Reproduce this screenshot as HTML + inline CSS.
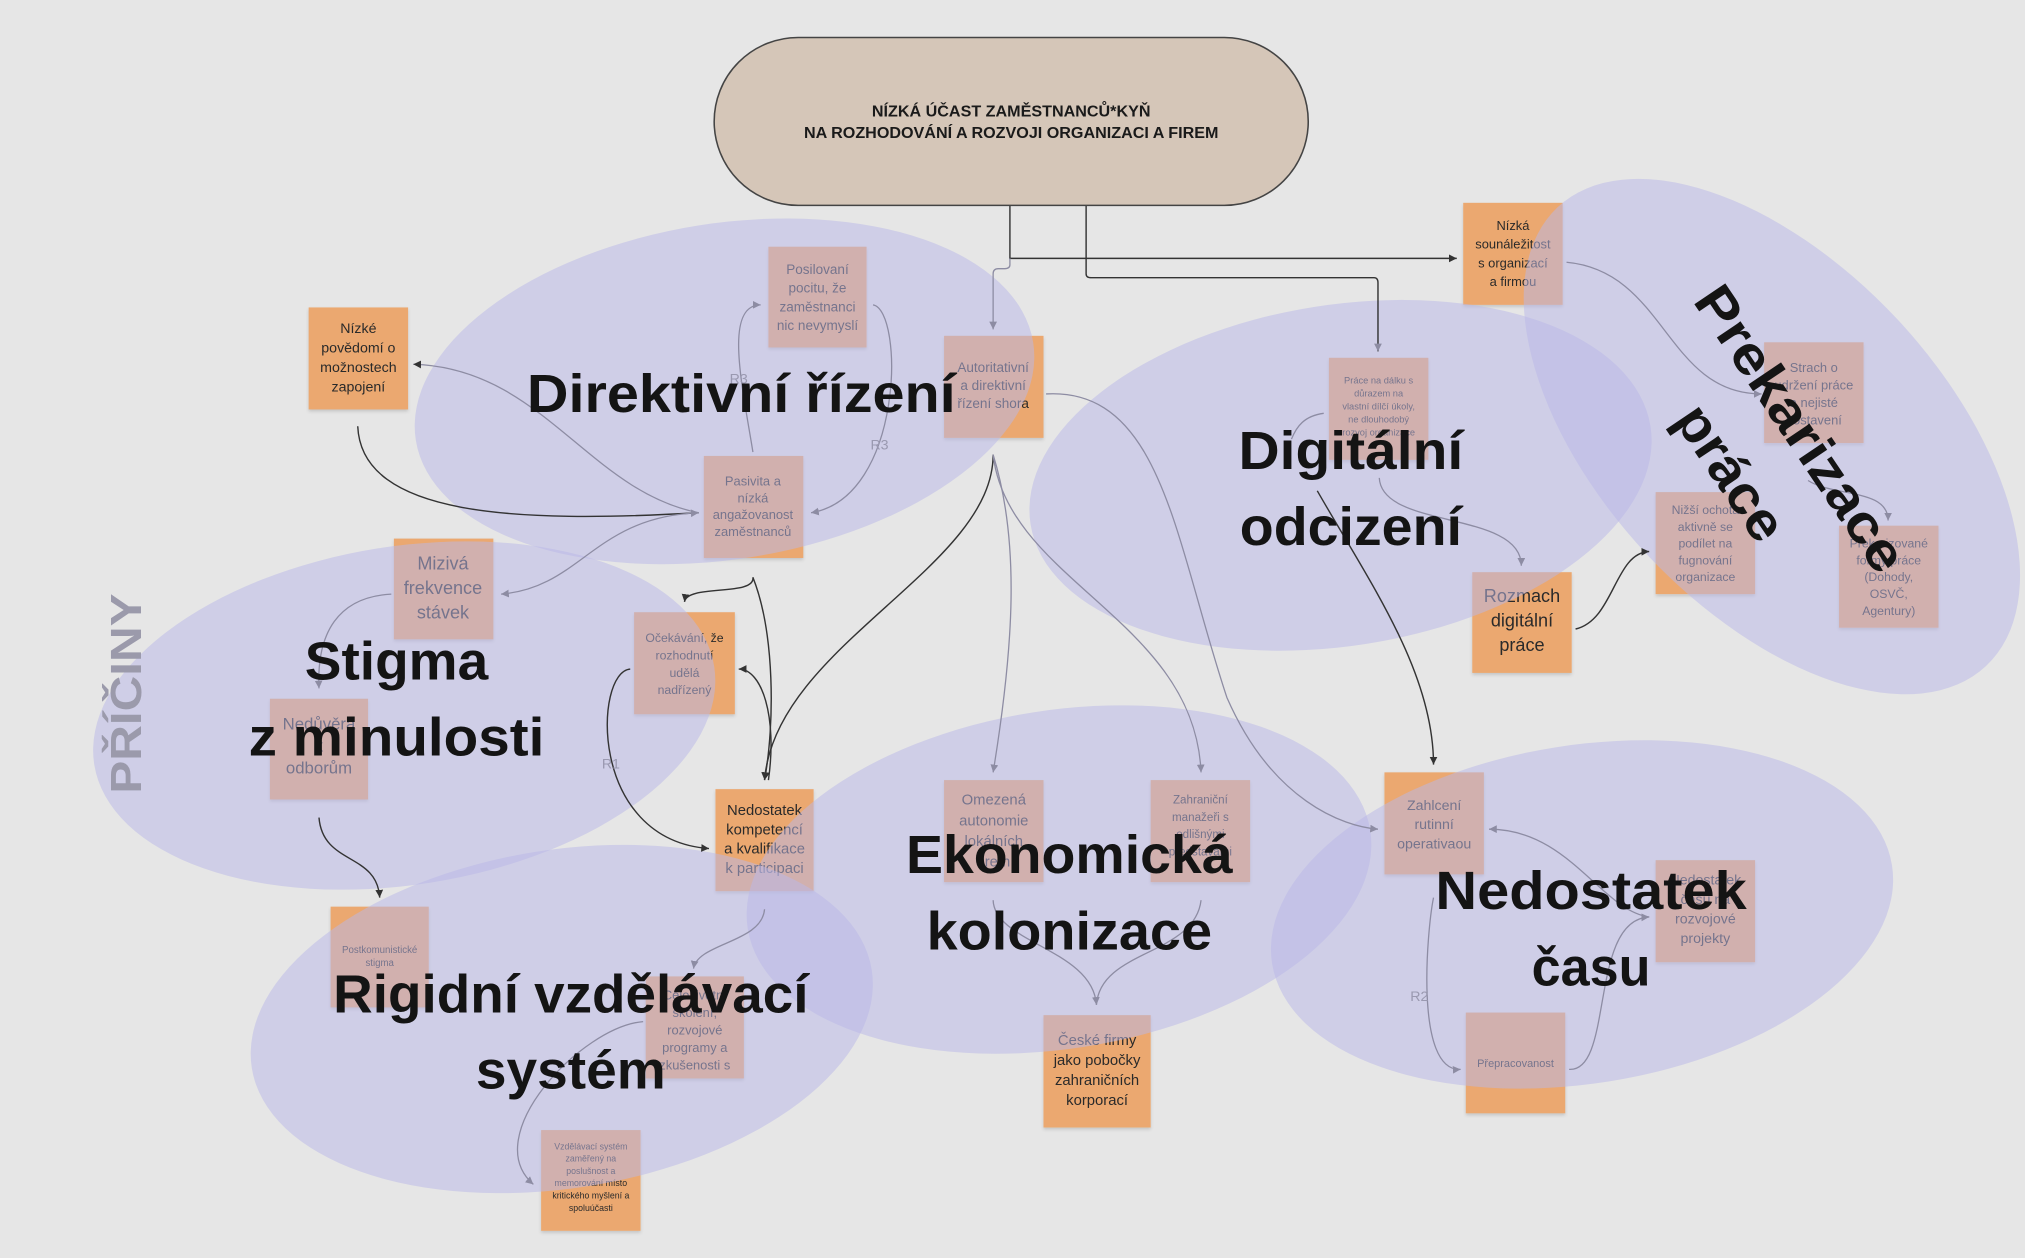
<!DOCTYPE html>
<html><head><meta charset="utf-8"><style>
html,body{margin:0;padding:0;background:#e6e6e6;}
svg{display:block;}
text{font-family:"Liberation Sans","DejaVu Sans",sans-serif;}
.n{font-size:10.5px;fill:#2a2a2a;text-anchor:middle;}
.b{font-weight:bold;fill:#141414;text-anchor:middle;font-size:42px;}
.g{fill:none;stroke:#8d8ca3;stroke-width:1;}
.d{fill:none;stroke:#333;stroke-width:1.1;}
.r{font-size:11px;fill:#9a99b0;}
</style></head><body>
<svg width="2025" height="1258" viewBox="0 0 1568 974" xmlns="http://www.w3.org/2000/svg">
<defs>
<marker id="ad" markerWidth="8" markerHeight="8" refX="6" refY="3" orient="auto" markerUnits="userSpaceOnUse"><path d="M0,0 L6,3 L0,6 z" fill="#333"/></marker>
<marker id="ag" markerWidth="8" markerHeight="8" refX="6" refY="3" orient="auto" markerUnits="userSpaceOnUse"><path d="M0,0 L6,3 L0,6 z" fill="#8d8ca3"/></marker>
<filter id="sh" x="-10%" y="-10%" width="130%" height="130%"><feDropShadow dx="0" dy="1.5" stdDeviation="1.2" flood-color="#000" flood-opacity="0.15"/></filter>
</defs>
<rect width="1568" height="974" fill="#e6e6e6"/>

<g fill="#eba86f" filter="url(#sh)">
<rect x="239" y="238" width="77" height="79"/>
<rect x="595" y="191" width="76" height="78"/>
<rect x="731" y="260" width="77" height="79"/>
<rect x="545" y="353" width="77" height="79"/>
<rect x="305" y="417" width="77" height="78"/>
<rect x="491" y="474" width="78" height="79"/>
<rect x="209" y="541" width="76" height="78"/>
<rect x="554" y="611" width="76" height="79"/>
<rect x="256" y="702" width="76" height="78"/>
<rect x="500" y="756" width="76" height="79"/>
<rect x="419" y="875" width="77" height="78"/>
<rect x="1133" y="157" width="77" height="79"/>
<rect x="1029" y="277" width="77" height="79"/>
<rect x="1366" y="265" width="77" height="78"/>
<rect x="1282" y="381" width="77" height="79"/>
<rect x="1424" y="407" width="77" height="79"/>
<rect x="1140" y="443" width="77" height="78"/>
<rect x="731" y="604" width="77" height="79"/>
<rect x="891" y="604" width="77" height="79"/>
<rect x="1072" y="598" width="77" height="79"/>
<rect x="1282" y="666" width="77" height="79"/>
<rect x="808" y="786" width="83" height="87"/>
<rect x="1135" y="784" width="77" height="78"/>
</g>
<g class="n">
<text font-size="11" x="277.5" y="258"><tspan x="277.5">Nízké</tspan><tspan x="277.5" dy="15">povědomí o</tspan><tspan x="277.5" dy="15">možnostech</tspan><tspan x="277.5" dy="15">zapojení</tspan></text>
<text font-size="10.5" x="633" y="212"><tspan x="633">Posilovaní</tspan><tspan x="633" dy="14.5">pocitu, že</tspan><tspan x="633" dy="14.5">zaměstnanci</tspan><tspan x="633" dy="14.5">nic nevymyslí</tspan></text>
<text font-size="10.5" x="769" y="288"><tspan x="769">Autoritativní</tspan><tspan x="769" dy="14">a direktivní</tspan><tspan x="769" dy="14">řízení shora</tspan></text>
<text font-size="10" x="583" y="376"><tspan x="583">Pasivita a</tspan><tspan x="583" dy="13">nízká</tspan><tspan x="583" dy="13">angažovanost</tspan><tspan x="583" dy="13">zaměstnanců</tspan></text>
<text font-size="14" x="343" y="441"><tspan x="343">Mizivá</tspan><tspan x="343" dy="19">frekvence</tspan><tspan x="343" dy="19">stávek</tspan></text>
<text font-size="9.5" x="530" y="497"><tspan x="530">Očekávání, že</tspan><tspan x="530" dy="13.5">rozhodnutí</tspan><tspan x="530" dy="13.5">udělá</tspan><tspan x="530" dy="13.5">nadřízený</tspan></text>
<text font-size="13" x="247" y="565"><tspan x="247">Nedůvěra</tspan><tspan x="247" dy="17">k</tspan><tspan x="247" dy="17">odborům</tspan></text>
<text font-size="11.5" x="592" y="631"><tspan x="592">Nedostatek</tspan><tspan x="592" dy="15">kompetencí</tspan><tspan x="592" dy="15">a kvalifikace</tspan><tspan x="592" dy="15">k participaci</tspan></text>
<text font-size="7.5" x="294" y="738"><tspan x="294">Postkomunistické</tspan><tspan x="294" dy="10">stigma</tspan></text>
<text font-size="10" x="538" y="774"><tspan x="538">Celoživotní</tspan><tspan x="538" dy="13.5">školení,</tspan><tspan x="538" dy="13.5">rozvojové</tspan><tspan x="538" dy="13.5">programy a</tspan><tspan x="538" dy="13.5">zkušenosti s</tspan></text>
<text font-size="6.8" x="457.5" y="890"><tspan x="457.5">Vzdělávací systém</tspan><tspan x="457.5" dy="9.5">zaměřený na</tspan><tspan x="457.5" dy="9.5">poslušnost a</tspan><tspan x="457.5" dy="9.5">memorování místo</tspan><tspan x="457.5" dy="9.5">kritického myšlení a</tspan><tspan x="457.5" dy="9.5">spoluúčasti</tspan></text>
<text font-size="10" x="1171.5" y="178"><tspan x="1171.5">Nízká</tspan><tspan x="1171.5" dy="14.5">sounáležitost</tspan><tspan x="1171.5" dy="14.5">s organizací</tspan><tspan x="1171.5" dy="14.5">a firmou</tspan></text>
<text font-size="7.2" x="1067.5" y="297"><tspan x="1067.5">Práce na dálku s</tspan><tspan x="1067.5" dy="10">důrazem na</tspan><tspan x="1067.5" dy="10">vlastní dílčí úkoly,</tspan><tspan x="1067.5" dy="10">ne dlouhodobý</tspan><tspan x="1067.5" dy="10">rozvoj organizace</tspan></text>
<text font-size="10" x="1404.5" y="288"><tspan x="1404.5">Strach o</tspan><tspan x="1404.5" dy="13.5">udržení práce</tspan><tspan x="1404.5" dy="13.5">a nejisté</tspan><tspan x="1404.5" dy="13.5">postavení</tspan></text>
<text font-size="9.5" x="1320.5" y="398"><tspan x="1320.5">Nižší ochota</tspan><tspan x="1320.5" dy="13">aktivně se</tspan><tspan x="1320.5" dy="13">podílet na</tspan><tspan x="1320.5" dy="13">fugnování</tspan><tspan x="1320.5" dy="13">organizace</tspan></text>
<text font-size="9.5" x="1462.5" y="424"><tspan x="1462.5">Prekarizované</tspan><tspan x="1462.5" dy="13">formy práce</tspan><tspan x="1462.5" dy="13">(Dohody,</tspan><tspan x="1462.5" dy="13">OSVČ,</tspan><tspan x="1462.5" dy="13">Agentury)</tspan></text>
<text font-size="14" x="1178.5" y="466"><tspan x="1178.5">Rozmach</tspan><tspan x="1178.5" dy="19">digitální</tspan><tspan x="1178.5" dy="19">práce</tspan></text>
<text font-size="11.5" x="769.5" y="623"><tspan x="769.5">Omezená</tspan><tspan x="769.5" dy="16">autonomie</tspan><tspan x="769.5" dy="16">lokálních</tspan><tspan x="769.5" dy="16">firem</tspan></text>
<text font-size="9" x="929.5" y="622"><tspan x="929.5">Zahraniční</tspan><tspan x="929.5" dy="13.5">manažeři s</tspan><tspan x="929.5" dy="13.5">odlišnými</tspan><tspan x="929.5" dy="13.5">představami</tspan></text>
<text font-size="11" x="1110.5" y="627"><tspan x="1110.5">Zahlcení</tspan><tspan x="1110.5" dy="15">rutinní</tspan><tspan x="1110.5" dy="15">operativaou</tspan></text>
<text font-size="11" x="1320.5" y="685"><tspan x="1320.5">Nedostatek</tspan><tspan x="1320.5" dy="15">času na</tspan><tspan x="1320.5" dy="15">rozvojové</tspan><tspan x="1320.5" dy="15">projekty</tspan></text>
<text font-size="11.5" x="849.5" y="809"><tspan x="849.5">České firmy</tspan><tspan x="849.5" dy="15.5">jako pobočky</tspan><tspan x="849.5" dy="15.5">zahraničních</tspan><tspan x="849.5" dy="15.5">korporací</tspan></text>
<text font-size="8.5" x="1173.5" y="826">Přepracovanost</text>
</g>

<g fill="rgb(186,184,232)" fill-opacity="0.52">
<ellipse cx="561" cy="303" rx="242" ry="130" transform="rotate(-9 561 303)"/>
<ellipse cx="313" cy="554" rx="243" ry="131" transform="rotate(-9 313 554)"/>
<ellipse cx="435" cy="789" rx="243" ry="131" transform="rotate(-9 435 789)"/>
<ellipse cx="820" cy="681" rx="244" ry="131" transform="rotate(-9 820 681)"/>
<ellipse cx="1225" cy="708" rx="243" ry="131" transform="rotate(-9 1225 708)"/>
<ellipse cx="1038" cy="368" rx="243" ry="132" transform="rotate(-9 1038 368)"/>
<ellipse cx="1372" cy="338" rx="243" ry="133" transform="rotate(47 1372 338)"/>
</g>

<path class="d" d="M782,159 V200 H1128" marker-end="url(#ad)"/>
<path class="g" d="M782,200 V205 Q782,208 778,208 H773 Q769,208 769,212 V255" marker-end="url(#ag)"/>
<path class="d" d="M841,159 V212 Q841,215 845,215 H1064 Q1067,215 1067,219 V272" marker-end="url(#ag)"/>
<path class="g" d="M583,350 C575,300 560,236 589,236" marker-end="url(#ag)"/>
<path class="g" d="M676,236 C700,240 700,385 628,397" marker-end="url(#ag)"/>
<path class="d" stroke="#555" d="M277,330 C280,400 400,405 541,397" marker-end="url(#ag)"/>
<path class="g" d="M541,397 C455,380 420,285 320,282" marker-end="url(#ad)"/>
<path class="g" d="M541,397 C460,400 450,455 388,460" marker-end="url(#ag)"/>
<path class="g" d="M303,460 C262,462 245,490 247,533" marker-end="url(#ag)"/>
<path class="d" stroke="#555" d="M247,633 C250,670 292,660 294,695" marker-end="url(#ad)"/>
<path class="d" d="M583,447 C585,462 532,452 530,466" marker-end="url(#ad)"/>
<path class="d" d="M583,447 C600,490 600,560 592,604" marker-end="url(#ad)"/>
<path class="d" d="M769,352 C769,440 600,500 592,604" marker-end="url(#ad)"/>
<path class="d" d="M595,604 C602,555 590,518 572,518" marker-end="url(#ad)"/>
<path class="d" stroke="#555" d="M488,518 C460,520 455,650 549,657" marker-end="url(#ad)"/>
<path class="g" d="M769,352 C790,420 785,500 769,598" marker-end="url(#ag)"/>
<path class="g" d="M769,352 C780,450 925,480 930,598" marker-end="url(#ag)"/>
<path class="g" d="M810,305 C900,300 910,420 950,540 C985,620 1040,640 1067,642" marker-end="url(#ag)"/>
<path class="d" d="M1020,380 C1060,450 1110,520 1110,592" marker-end="url(#ad)"/>
<path class="g" d="M592,704 C590,730 540,730 537,750" marker-end="url(#ag)"/>
<path class="g" d="M498,791 C450,795 370,880 413,917" marker-end="url(#ag)"/>
<path class="g" d="M769,697 C770,730 846,735 849,778" marker-end="url(#ag)"/>
<path class="g" d="M930,697 C925,740 852,735 849,778"/>
<path class="g" d="M1110,695 C1105,720 1095,830 1131,828" marker-end="url(#ag)"/>
<path class="g" d="M1215,828 C1250,830 1230,712 1277,710" marker-end="url(#ag)"/>
<path class="g" d="M1277,710 C1240,705 1215,642 1153,642" marker-end="url(#ag)"/>
<path class="g" d="M1068,370 C1070,410 1178,395 1178,438" marker-end="url(#ag)"/>
<path class="g" d="M1025,320 C1010,322 1004,330 1000,340"/>
<path class="d" d="M1220,487 C1250,480 1250,428 1277,427" marker-end="url(#ad)"/>
<path class="g" d="M1213,203 C1290,210 1290,305 1364,305" marker-end="url(#ag)"/>
<path class="g" d="M1400,372 C1420,385 1462,378 1462,403" marker-end="url(#ag)"/>
<text class="r" x="565" y="297">R3</text>
<text class="r" x="674" y="348">R3</text>
<text class="r" x="466" y="595">R1</text>
<text class="r" x="1092" y="775">R2</text>

<text class="b" x="574" y="319" textLength="332" lengthAdjust="spacingAndGlyphs">Direktivní řízení</text>
<text class="b" x="307" y="526" textLength="142" lengthAdjust="spacingAndGlyphs">Stigma</text>
<text class="b" x="307" y="585" textLength="229" lengthAdjust="spacingAndGlyphs">z minulosti</text>
<text class="b" x="442" y="784" textLength="368" lengthAdjust="spacingAndGlyphs">Rigidní vzdělávací</text>
<text class="b" x="442" y="843" textLength="147" lengthAdjust="spacingAndGlyphs">systém</text>
<text class="b" x="828" y="676" textLength="253" lengthAdjust="spacingAndGlyphs">Ekonomická</text>
<text class="b" x="828" y="735" textLength="221" lengthAdjust="spacingAndGlyphs">kolonizace</text>
<text class="b" x="1232" y="704" textLength="241" lengthAdjust="spacingAndGlyphs">Nedostatek</text>
<text class="b" x="1232" y="763" textLength="92" lengthAdjust="spacingAndGlyphs">času</text>
<text class="b" x="1046" y="363" textLength="174" lengthAdjust="spacingAndGlyphs">Digitální</text>
<text class="b" x="1046" y="422" textLength="172" lengthAdjust="spacingAndGlyphs">odcizení</text>
<g transform="translate(1394,332) rotate(56)"><text class="b" x="0" y="14" font-size="40" textLength="258" lengthAdjust="spacingAndGlyphs">Prekarizace</text></g>
<g transform="translate(1340,366) rotate(56)"><text class="b" x="0" y="14" font-size="40" textLength="118" lengthAdjust="spacingAndGlyphs">práce</text></g>
<g transform="translate(97,537) rotate(-90)"><text x="0" y="12" font-size="34" font-weight="bold" fill="#9b9aab" text-anchor="middle" textLength="155" lengthAdjust="spacingAndGlyphs">PŘÍČINY</text></g>

<rect x="553" y="29" width="460" height="130" rx="65" ry="65" fill="#d5c6b8" stroke="#444" stroke-width="1.2"/>
<text x="783" y="90" font-size="12.5" font-weight="bold" fill="#1a1a1a" text-anchor="middle">NÍZKÁ ÚČAST ZAMĚSTNANCŮ*KYŇ</text>
<text x="783" y="107" font-size="12.5" font-weight="bold" fill="#1a1a1a" text-anchor="middle">NA ROZHODOVÁNÍ A ROZVOJI ORGANIZACI A FIREM</text>
</svg>
</body></html>
